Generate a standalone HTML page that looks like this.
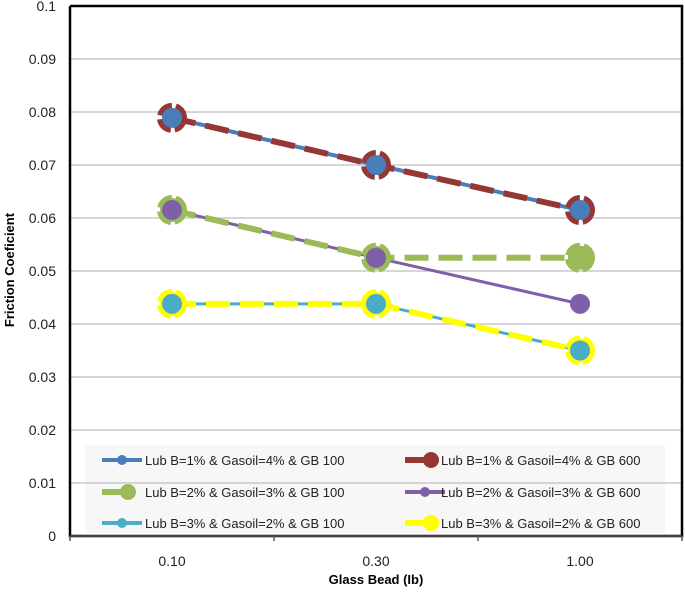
<!DOCTYPE html>
<html><head><meta charset="utf-8"><style>
body{margin:0;background:#fff;font-family:"Liberation Sans",Arial,sans-serif}
svg text{font-family:"Liberation Sans",Arial,sans-serif}
</style></head><body>
<svg id="c" width="685" height="590" xmlns="http://www.w3.org/2000/svg"></svg>
<script>
const categories=["0.10","0.30","1.00"];
const yTicks=[0,0.01,0.02,0.03,0.04,0.05,0.06,0.07,0.08,0.09,0.1];
const yTickLabels=["0","0.01","0.02","0.03","0.04","0.05","0.06","0.07","0.08","0.09","0.1"];
const s1=[0.0789,0.0700,0.0615];
const s2=[0.0789,0.0700,0.0615];
const s3=[0.0615,0.0525,0.0525];
const s4=[0.0615,0.0525,0.0438];
const s5=[0.0438,0.0438,0.0350];
const s6=[0.0438,0.0438,0.0350];
const names=["Lub B=1% & Gasoil=4% & GB 100","Lub B=1% & Gasoil=4% & GB 600","Lub B=2% & Gasoil=3% & GB 100","Lub B=2% & Gasoil=3% & GB 600","Lub B=3% & Gasoil=2% & GB 100","Lub B=3% & Gasoil=2% & GB 600"];
const NS="http://www.w3.org/2000/svg",svg=document.getElementById('c');
const L=70,R=682,T=6,B=536;
const y=v=>B-(v/0.1)*(B-T);
const x=i=>L+(R-L)/3*(i+0.5);
function mk(t,a,p){const e=document.createElementNS(NS,t);for(const k in a)e.setAttribute(k,a[k]);(p||svg).appendChild(e);return e;}
yTicks.forEach((v,i)=>{
 if(v>0){const g=mk('line',{x1:L,x2:R,y1:y(v),y2:y(v),stroke:'#c8c8c8','stroke-width':1.5});
 
 }
 const t=mk('text',{x:L-14,y:y(v)+5,'text-anchor':'end','font-size':14,fill:'#222'});t.textContent=yTickLabels[i];
 
 
});
const lg=mk('rect',{x:85,y:445,width:580,height:88,fill:'#f7f7f7'});


mk('line',{x1:85,x2:665,y1:y(0.01),y2:y(0.01),stroke:'#c8c8c8','stroke-width':1.5});
const ax=mk('path',{d:`M${L},${T} V${B} H${R} V${T} H${L}`,fill:'none',stroke:'#000','stroke-width':2.5});


mk('line',{x1:L,x2:R,y1:B,y2:B,stroke:'#555','stroke-width':1.5});
for(let i=0;i<=3;i++)mk('line',{x1:L+(R-L)/3*i,x2:L+(R-L)/3*i,y1:B,y2:B+5,stroke:'#555','stroke-width':1.5});
categories.forEach((c,i)=>{const t=mk('text',{x:x(i),y:566,'text-anchor':'middle','font-size':14,fill:'#222'});t.textContent=c;
 
 });
const xt=mk('text',{x:376,y:584,'text-anchor':'middle','font-size':13,'font-weight':'bold'});xt.textContent='Glass Bead (Ib)';


const yt=mk('text',{x:0,y:0,transform:'translate(14,270) rotate(-90)','text-anchor':'middle','font-size':13,'font-weight':'bold'});yt.textContent='Friction Coeficient';


const styles=[
 {c:'#4a7ebb',w:4,d:'',r:10,big:false},
 {c:'#953735',w:6,d:'24 10',r:12,big:true},
 {c:'#9bbb59',w:6,d:'24 10',r:12,big:true},
 {c:'#7f5fa8',w:3,d:'',r:10,big:false},
 {c:'#4bacc6',w:3,d:'',r:10,big:false},
 {c:'#ffff00',w:6,d:'24 10',r:12,big:true}];
const series=[s1,s2,s3,s4,s5,s6];
const groups=series.map((d,si)=>{const g=mk('g',{});
 
 
 return g;});
// layer order: solid lines, dashed lines, big markers, small markers
const layerLines=[0,3,4,1,2,5];
const lineLayer=mk('g',{}),bigLayer=mk('g',{}),smallLayer=mk('g',{});
layerLines.forEach(si=>{const s=styles[si],d=series[si];
 const p=mk('polyline',{points:d.map((v,i)=>x(i)+','+y(v)).join(' '),fill:'none',stroke:s.c,'stroke-width':s.w,'stroke-dasharray':s.d},lineLayer);
 
 
});
series.forEach((d,si)=>{const s=styles[si];
 d.forEach((v,i)=>{
  if(s.big){const m=mk('circle',{cx:x(i),cy:y(v),r:s.r,fill:si===1?'none':s.c,stroke:s.c,'stroke-width':6,'stroke-dasharray':'16 4'},bigLayer);
   
   }
  else{const m=mk('circle',{cx:x(i),cy:y(v),r:s.r,fill:s.c},smallLayer);
   
   }
 });
});
const lx=[102,405],tx=[145,441],ly=[460,492,523];
names.forEach((n,i)=>{
 const col=i%2,row=Math.floor(i/2),s=styles[i];
 const g=mk('g',{});
 
 
 const x0=lx[col],yy=ly[row];
 if(s.big){mk('line',{x1:x0,x2:x0+22,y1:yy,y2:yy,stroke:s.c,'stroke-width':6},g);mk('circle',{cx:x0+26,cy:yy,r:8,fill:s.c},g);}
 else{mk('line',{x1:x0,x2:x0+40,y1:yy,y2:yy,stroke:s.c,'stroke-width':4},g);mk('circle',{cx:x0+20,cy:yy,r:5,fill:s.c},g);}
 const t=mk('text',{x:tx[col],y:yy+5,'font-size':13,fill:'#222'},g);t.textContent=n;
});
</script>
</body></html>
